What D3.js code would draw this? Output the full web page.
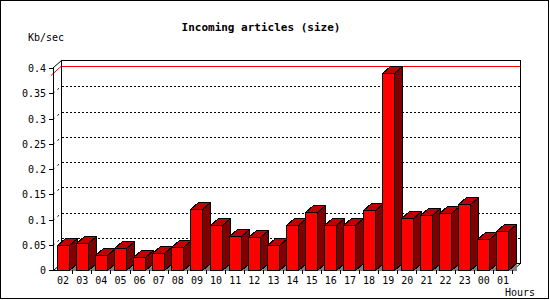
<!DOCTYPE html>
<html>
<head>
<meta charset="utf-8">
<script src="https://cdn.jsdelivr.net/npm/d3@7"></script>
<style>
  body { margin: 0; background: #fff; }
  text { font-family: "DejaVu Sans Mono", monospace; fill: #000; }
</style>
</head>
<body>
<div id="chart"></div>
<script>
// hourly data
var hours = ["02","03","04","05","06","07","08","09","10","11","12","13",
             "14","15","16","17","18","19","20","21","22","23","00","01"];
var sizes = [0.049,0.053,0.029,0.043,0.025,0.033,0.045,0.120,0.090,0.067,0.065,0.049,
             0.089,0.115,0.089,0.089,0.118,0.391,0.102,0.108,0.112,0.130,0.061,0.077];
var yTicks = [0, 0.05, 0.1, 0.15, 0.2, 0.25, 0.3, 0.35, 0.4];

var W = 550, H = 300;
var dx = 8, dy = 7; // 3d depth
var x0 = 53, x1 = 512, yBase = 270;

var svg = d3.select("#chart").append("svg")
    .attr("width", W).attr("height", H);

svg.append("rect")
    .attr("x", 0.5).attr("y", 0.5)
    .attr("width", W - 2).attr("height", H - 2)
    .attr("fill", "#fff").attr("stroke", "#000");

var x = d3.scaleBand().domain(hours).range([x0, x1]).padding(0);
var y = d3.scaleLinear().domain([0, 0.4]).range([yBase, 68]);

var g = svg.append("g").attr("shape-rendering", "crispEdges");

// back wall
g.append("rect")
    .attr("x", x0 + dx + 0.5).attr("y", 60.5)
    .attr("width", x1 - x0).attr("height", yBase - dy - 60)
    .attr("fill", "#fff").attr("stroke", "#000");

// dotted gridlines
yTicks.filter(function(t){ return t > 0 && t < 0.4; }).forEach(function(t){
    var yy = Math.round(y(t)) - dy + 0.5;
    g.append("line")
        .attr("x1", x0 + dx + 1).attr("x2", x1 + dx)
        .attr("y1", yy).attr("y2", yy)
        .attr("stroke", "#000").attr("stroke-dasharray", "2,2");
    g.append("line")
        .attr("x1", x0).attr("y1", Math.round(y(t)) + 0.5)
        .attr("x2", x0 + dx).attr("y2", yy)
        .attr("stroke", "#000").attr("stroke-dasharray", "2,4")
        .attr("shape-rendering", "auto");
});

// max value line
var maxV = d3.max(sizes);
var ym = Math.round(y(maxV)) - dy + 0.5;
g.append("line")
    .attr("x1", x0 + dx + 1).attr("x2", x1 + dx)
    .attr("y1", ym).attr("y2", ym)
    .attr("stroke", "#ff0000");
g.append("line")
    .attr("x1", x0 - 2).attr("y1", ym + dy + 2)
    .attr("x2", x0 + dx).attr("y2", ym)
    .attr("stroke", "#ff0000").attr("shape-rendering", "auto");

// front axis frame
g.append("line").attr("x1", x0 + 0.5).attr("x2", x0 + 0.5)
    .attr("y1", 67).attr("y2", yBase + 0.5).attr("stroke", "#000");
g.append("line").attr("x1", x0).attr("x2", x1 + 0.5)
    .attr("y1", yBase + 0.5).attr("y2", yBase + 0.5).attr("stroke", "#000");
[[x0 + 0.5, 67.5], [x0 + 0.5, yBase + 0.5], [x1 + 0.5, yBase + 0.5]].forEach(function(p){
    g.append("line").attr("x1", p[0]).attr("y1", p[1])
        .attr("x2", p[0] + dx).attr("y2", p[1] - dy)
        .attr("stroke", "#000").attr("shape-rendering", "auto");
});

// bars
var bw = 12;
var bars = g.selectAll(".bar").data(sizes).enter().append("g").attr("class", "bar");
function pts(a) { return a.map(function(p){ return p[0] + "," + p[1]; }).join(" "); }
bars.each(function(d, i){
    var sel = d3.select(this);
    var cx = x(hours[i]) + x.bandwidth() / 2;
    var l = Math.round(cx - bw / 2) + 0.5, r = l + bw;
    var t = Math.round(y(d)) + 0.5, b = yBase + 0.5;
    sel.append("polygon")
        .attr("points", pts([[r, b], [r + dx, b - dy], [r + dx, b]]))
        .attr("fill", "#808080").attr("stroke", "none");
    sel.append("polygon")
        .attr("points", pts([[l, t], [l + dx, t - dy], [r + dx, t - dy], [r, t]]))
        .attr("fill", "#c00000").attr("stroke", "#000");
    sel.append("polygon")
        .attr("points", pts([[r, t], [r + dx, t - dy], [r + dx, b - dy], [r, b]]))
        .attr("fill", "#800000").attr("stroke", "#000");
    sel.append("rect")
        .attr("x", l).attr("y", t).attr("width", bw).attr("height", b - t)
        .attr("fill", "#ff0000").attr("stroke", "#000");
});

// y axis ticks + labels
yTicks.forEach(function(t){
    var yy = Math.round(y(t)) + 0.5;
    g.append("line").attr("x1", x0 - 4).attr("x2", x0)
        .attr("y1", yy).attr("y2", yy).attr("stroke", "#000");
    svg.append("text")
        .attr("x", 46).attr("y", yy + 3.5)
        .attr("text-anchor", "end").attr("font-size", "10px")
        .text(d3.format("")(t));
});

// x axis ticks + labels
hours.forEach(function(h, i){
    var xx = Math.round(x(h)) + 0.5;
    if (i > 0) g.append("line").attr("x1", xx).attr("x2", xx)
        .attr("y1", yBase).attr("y2", yBase + 4).attr("stroke", "#000");
    svg.append("text")
        .attr("x", x(h) + x.bandwidth() / 2 + 0.5).attr("y", 284)
        .attr("text-anchor", "middle").attr("font-size", "10px")
        .text(h);
});
g.append("line").attr("x1", x1 + 0.5).attr("x2", x1 + 0.5)
    .attr("y1", yBase).attr("y2", yBase + 4).attr("stroke", "#000");

svg.append("text").attr("x", 261).attr("y", 31)
    .attr("text-anchor", "middle").attr("font-size", "11px").attr("font-weight", "bold")
    .text("Incoming articles (size)");
svg.append("text").attr("x", 28).attr("y", 41).attr("font-size", "10px").text("Kb/sec");
svg.append("text").attr("x", 505).attr("y", 296).attr("font-size", "10px").text("Hours");
</script>
</body>
</html>
